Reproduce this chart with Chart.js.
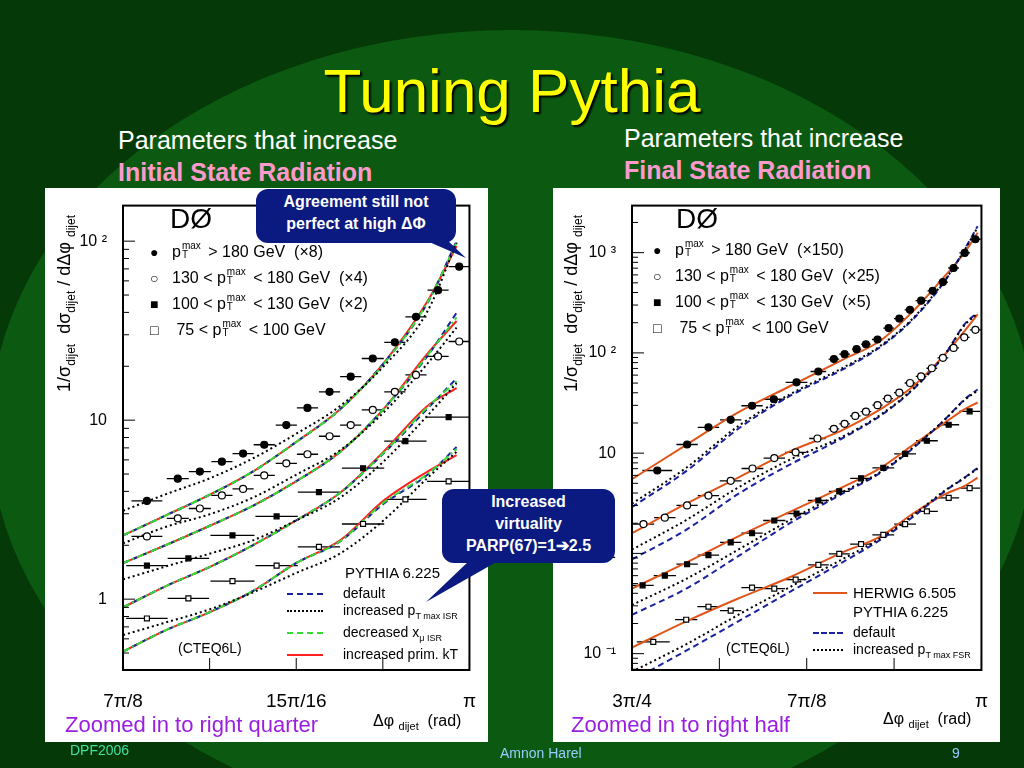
<!DOCTYPE html>
<html><head><meta charset="utf-8">
<script src="https://cdn.jsdelivr.net/npm/chart.js@4"></script>
<style>
body{margin:0;width:1024px;height:768px;overflow:hidden;background:#053a08;font-family:"Liberation Sans",Arial,sans-serif;position:relative}
.abs{position:absolute}
#ell{left:-10px;top:30px;width:1044px;height:800px;border-radius:50%;background:#0c5a12}
.title{left:0;width:1024px;top:55px;text-align:center;color:#ffff00;font-size:62px;text-shadow:2px 2px 2px #000}
.wt{color:#fff;font-size:25px}
.pk{color:#ff99cc;font-size:25px;font-weight:bold}
.panel{background:#fff}
.call{background:#0a1a80;color:#fff;font-weight:bold;font-size:16px;text-align:center;border-radius:12px;line-height:22px}
.leg{font-size:16px;color:#000;line-height:22.5px}
.ss{display:inline-flex;flex-direction:column;font-size:10px;line-height:9px;position:relative;top:-8px;margin-left:1px;margin-right:3px;vertical-align:baseline}
.mk{display:inline-block;width:22px;font-size:14px}
.ln{display:inline-block;width:60px;height:0;vertical-align:middle;margin-right:14px}
.lg2{font-size:14px;line-height:16.5px;color:#000}
.foot{color:#99ccff;font-size:14px}
.zm{color:#9a1ee0;font-size:22px}
.yl{transform:rotate(-90deg);transform-origin:0 0;font-size:18px;white-space:nowrap;color:#000}
</style></head><body>
<div id="ell" class="abs"></div>
<div class="abs title">Tuning Pythia</div>
<div class="abs wt" style="left:118px;top:126px">Parameters that increase</div>
<div class="abs pk" style="left:118px;top:158px">Initial State Radiation</div>
<div class="abs wt" style="left:624px;top:124px">Parameters that increase</div>
<div class="abs pk" style="left:624px;top:156px">Final State Radiation</div>
<div class="abs panel" style="left:45px;top:188px;width:443px;height:554px"></div>
<div class="abs panel" style="left:553px;top:188px;width:447px;height:554px"></div>
<canvas id="c1" class="abs" width="443" height="554" style="left:45px;top:188px"></canvas>
<canvas id="c2" class="abs" width="447" height="554" style="left:553px;top:188px"></canvas>

<!-- left legends -->
<div class="abs" style="left:170px;top:203px;font-size:28px">DØ</div>
<div class="abs leg" style="left:150px;top:241px">
<div><span class="mk">●</span>p<span class="ss"><span>max</span><span>T</span></span> &gt; 180 GeV &nbsp;(×8)</div>
<div><span class="mk">○</span>130 &lt; p<span class="ss"><span>max</span><span>T</span></span> &lt; 180 GeV &nbsp;(×4)</div>
<div><span class="mk">■</span>100 &lt; p<span class="ss"><span>max</span><span>T</span></span> &lt; 130 GeV &nbsp;(×2)</div>
<div><span class="mk">□</span>&nbsp;75 &lt; p<span class="ss"><span>max</span><span>T</span></span> &lt; 100 GeV</div>
</div>
<div class="abs lg2" style="left:345px;top:565px;font-size:15px">PYTHIA 6.225</div>
<div class="abs lg2" style="left:287px;top:585px">
<div><span class="ln" style="border-top:2.5px dashed #1a22a0;width:36px;margin-right:20px"></span>default</div>
<div><span class="ln" style="border-top:2.5px dotted #000;width:36px;margin-right:20px"></span>increased p<sub style="font-size:9px">T max ISR</sub></div>
<div><span class="ln" style="border-top:2.5px dashed #33dd33;width:36px;margin-right:20px"></span>decreased x<sub style="font-size:9px">μ ISR</sub></div>
<div><span class="ln" style="border-top:2.5px solid #ff2020;width:36px;margin-right:20px"></span>increased prim. kT</div>
</div>
<div class="abs lg2" style="left:178px;top:640px">(CTEQ6L)</div>
<div class="abs yl" style="left:54px;top:392px">1/σ<sub style="font-size:12px">dijet</sub> &nbsp;dσ<sub style="font-size:12px">dijet</sub> / dΔφ <sub style="font-size:12px">dijet</sub></div>
<div class="abs" style="left:373px;top:712px;font-size:16px;color:#000">Δφ <sub style="font-size:11px">dijet</sub> &nbsp;(rad)</div>
<div class="abs zm" style="left:65px;top:712px">Zoomed in to right quarter</div>

<!-- right legends -->
<div class="abs" style="left:676px;top:203px;font-size:28px">DØ</div>
<div class="abs leg" style="left:653px;top:239px">
<div><span class="mk">●</span>p<span class="ss"><span>max</span><span>T</span></span> &gt; 180 GeV &nbsp;(×150)</div>
<div><span class="mk">○</span>130 &lt; p<span class="ss"><span>max</span><span>T</span></span> &lt; 180 GeV &nbsp;(×25)</div>
<div><span class="mk">■</span>100 &lt; p<span class="ss"><span>max</span><span>T</span></span> &lt; 130 GeV &nbsp;(×5)</div>
<div><span class="mk">□</span>&nbsp;75 &lt; p<span class="ss"><span>max</span><span>T</span></span> &lt; 100 GeV</div>
</div>
<div class="abs lg2" style="left:853px;top:583px;font-size:15px;line-height:19px">
<div>HERWIG 6.505</div>
<div>PYTHIA 6.225</div></div>
<div class="abs" style="left:813px;top:592px;width:34px;border-top:2.5px solid #e0561a"></div>
<div class="abs lg2" style="left:813px;top:624px">
<div><span class="ln" style="border-top:2.5px dashed #1a22a0;width:30px;margin-right:10px"></span>default</div>
<div><span class="ln" style="border-top:2.5px dotted #000;width:30px;margin-right:10px"></span>increased p<sub style="font-size:9px">T max FSR</sub></div>
</div>
<div class="abs lg2" style="left:726px;top:640px">(CTEQ6L)</div>
<div class="abs yl" style="left:561px;top:392px">1/σ<sub style="font-size:12px">dijet</sub> &nbsp;dσ<sub style="font-size:12px">dijet</sub> / dΔφ <sub style="font-size:12px">dijet</sub></div>
<div class="abs" style="left:883px;top:710px;font-size:16px;color:#000">Δφ <sub style="font-size:11px">dijet</sub> &nbsp;(rad)</div>
<div class="abs zm" style="left:571px;top:712px">Zoomed in to right half</div>

<!-- callouts -->
<svg class="abs" style="left:0;top:0" width="1024" height="768">
<polygon points="420,238 445,238 466,258" fill="#0a1a80"/>
<polygon points="470,560 500,560 426,602" fill="#0a1a80"/>
</svg>
<div class="abs call" style="left:256px;top:189px;width:200px;height:52px;padding-top:2px">Agreement still not<br>perfect at high ΔΦ</div>
<div class="abs call" style="left:442px;top:489px;width:173px;height:72px;padding-top:2px">Increased<br>virtuality<br>PARP(67)=1➔2.5</div>

<div class="abs foot" style="left:70px;top:742px;color:#40e0a0">DPF2006</div>
<div class="abs foot" style="left:500px;top:745px">Amnon Harel</div>
<div class="abs foot" style="left:952px;top:745px">9</div>

<script>
const PI = Math.PI;
// ---------- Left plot (ISR) ----------
const L_xCirc = [2.776,2.811,2.836,2.861,2.885,2.909,2.934,2.958,2.983,3.007,3.032,3.057,3.081,3.106,3.130];
const L_fCirc = [3.54,4.71,5.16,5.86,6.51,7.29,9.39,11.7,14.4,17.5,22.1,27.2,37.8,53.2,72.0];
const L_oCirc = [2.24,2.83,3.21,3.80,4.13,4.91,5.74,6.45,8.13,9.39,11.4,14.4,17.9,22.7,27.5];
const L_xSq = [2.776,2.823,2.873,2.923,2.971,3.021,3.069,3.118];
const L_fSq = [1.54,1.69,2.27,2.90,3.96,5.39,7.64,10.4];
const L_oSq = [0.78,1.01,1.26,1.54,1.96,2.63,3.61,4.55];
const L_curveX = [2.749,2.797,2.848,2.896,2.945,2.995,3.044,3.094,3.127];
const L_red1 = [2.27,2.93,3.85,5.16,7.54,11.5,20.7,46.1,94];
const L_blue1 = [2.27,2.93,3.85,5.16,7.54,11.5,20.7,45.1,100];
const L_green1 = [2.27,2.93,3.85,5.16,7.54,11.5,20.5,45.5,98];
const L_dot1 = [3.12,3.85,4.75,6.11,8.38,12.0,19.9,40.6,98];
const L_red2 = [1.59,2.00,2.58,3.32,4.55,6.65,11.5,23.5,35.8];
const L_blue2 = [1.59,2.00,2.58,3.32,4.55,6.65,11.5,22.8,39.8];
const L_green2 = [1.59,2.00,2.58,3.32,4.55,6.65,11.5,23.0,37.5];
const L_dot2 = [2.05,2.53,2.99,3.69,4.95,6.79,11.0,20.7,32.9];
const L_red3 = [0.90,1.18,1.52,2.00,2.75,3.93,6.65,12.0,15.1];
const L_blue3 = [0.90,1.18,1.52,2.00,2.75,3.93,6.50,11.6,17.1];
const L_green3 = [0.90,1.18,1.52,2.00,2.75,3.93,6.55,11.8,16.5];
const L_dot3 = [1.29,1.52,1.80,2.13,2.75,3.69,5.86,10.6,16.1];
const L_red4 = [0.51,0.67,0.85,1.11,1.59,2.13,3.54,5.16,6.37];
const L_blue4 = [0.51,0.67,0.85,1.11,1.59,2.10,3.40,4.95,7.08];
const L_green4 = [0.51,0.67,0.85,1.11,1.59,2.11,3.45,5.00,6.90];
const L_dot4 = [0.63,0.74,0.88,1.09,1.40,1.80,2.75,4.75,6.65];
const L_xTicks = [7*PI/8, 15*PI/16, PI];
const L_xLabels = ['7π/8','15π/16','π'];
const L_yTicks = [1,10,100];
const L_yLabels = ['1','10','10 ²'];

// ---------- Right plot (FSR) ----------
const R_xFCirc = [2.413,2.480,2.528,2.578,2.626,2.675,2.726,2.775,2.810,2.834,2.861,2.882,2.908,2.933,2.957,2.981,3.006,3.032,3.055,3.079,3.104,3.128];
const R_fCirc = [6.71,12.2,18.1,21.5,29.7,34.5,50.9,65.2,86.7,97.0,109,122,136,177,220,269,332,416,509,703,993,1360];
const R_xOCirc = [2.382,2.430,2.480,2.528,2.578,2.627,2.676,2.724,2.773,2.810,2.834,2.858,2.882,2.908,2.931,2.957,2.981,3.006,3.030,3.055,3.079,3.103,3.128];
const R_oCirc = [1.96,2.27,3.01,3.77,5.29,7.03,8.93,10.2,14.0,17.5,19.6,23.5,25.9,30.1,35.0,40.1,50.1,58.3,70.3,89.3,112,143,170];
const R_xFSq = [2.380,2.430,2.480,2.528,2.578,2.626,2.676,2.726,2.775,2.822,2.871,2.921,2.970,3.019,3.068,3.115];
const R_fSq = [0.48,0.60,0.78,0.96,1.29,1.59,2.13,2.50,3.37,4.16,5.61,7.13,9.85,13.3,19.2,26.1];
const R_xOSq = [2.404,2.478,2.528,2.578,2.626,2.676,2.724,2.775,2.822,2.871,2.921,2.970,3.019,3.068,3.115];
const R_oSq = [0.131,0.218,0.294,0.269,0.455,0.445,0.548,0.769,0.99,1.24,1.53,1.96,2.63,3.58,4.48];
const R_curveX = [2.356,2.478,2.595,2.711,2.828,2.915,2.988,3.061,3.104,3.133];
const R_herwig1 = [5.49,12.1,25.5,46.5,84.8,133,261,596,1007,1580];
const R_def1 = [2.90,6.62,17.5,37.2,67.7,115,217,533,1086,1836];
const R_dot1 = [3.13,7.14,18.6,38.6,70.2,118,222,544,1070,1780];
const R_herwig2 = [1.59,3.13,5.70,10.4,16.9,27.5,46.5,98.5,166,242];
const R_def2 = [0.87,1.72,3.92,7.69,14.0,23.7,43.2,98.5,194,252];
const R_dot2 = [1.09,2.15,4.55,8.61,14.5,24.2,43.8,98.5,190,246];
const R_herwig3 = [0.445,0.81,1.48,2.59,4.55,7.14,12.1,20.4,27.5,32.0];
const R_def3 = [0.244,0.445,0.94,2.00,3.92,6.38,11.2,22.0,34.5,43.2];
const R_dot3 = [0.306,0.557,1.09,2.15,4.06,6.52,11.4,22.0,34.0,42.0];
const R_herwig4 = [0.115,0.210,0.355,0.578,1.02,1.48,2.50,3.92,4.72,5.70];
const R_def4 = [0.054,0.107,0.210,0.413,0.81,1.37,2.32,4.22,5.70,7.14];
const R_dot4 = [0.066,0.124,0.244,0.461,0.87,1.42,2.40,4.29,5.70,7.00];
const R_xTicks = [3*PI/4, 7*PI/8, PI];
const R_xLabels = ['3π/4','7π/8','π'];
const R_yTicks = [0.1,1,10,100,1000];
const R_yLabels = ['10 ⁻¹','1','10','10 ²','10 ³'];

const zip = (xs, ys) => xs.map((x,i)=>({x, y: ys[i]}));
function pts(xs, ys, style, filled){
  return {data: zip(xs,ys), showLine:false, pointStyle: style, pointRadius:3.5,
    backgroundColor: filled?'#000':'#fff', borderColor:'#000', borderWidth:1.2, errbar:true, order:0};
}
function curve(xs, ys, color, dash, w){
  return {data: zip(xs,ys), showLine:true, pointRadius:0, borderColor:color, borderDash:dash, borderWidth:w||2, cubicInterpolationMode:'monotone', order:1, fill:false};
}
const BLUE='#1a22a0', GREEN='#33dd33', RED='#ff2020', HER='#e0561a';

const errPlugin = {
  id:'errbars',
  beforeDatasetsDraw(chart){
    const ctx=chart.ctx, xs=chart.scales.x, ys=chart.scales.y, a=chart.chartArea;
    ctx.save(); ctx.strokeStyle='#000'; ctx.lineWidth=1.3;
    ctx.beginPath(); ctx.rect(a.left,a.top,a.right-a.left,a.bottom-a.top); ctx.clip();
    chart.data.datasets.forEach(ds=>{
      if(!ds.errbar) return;
      const d=ds.data;
      d.forEach((p,i)=>{
        const gp = i>0 ? p.x-d[i-1].x : d[i+1].x-p.x;
        const gn = i<d.length-1 ? d[i+1].x-p.x : gp;
        const h = Math.min(gp,gn)/2;
        const y=ys.getPixelForValue(p.y);
        ctx.beginPath(); ctx.moveTo(xs.getPixelForValue(p.x-h),y); ctx.lineTo(xs.getPixelForValue(p.x+h),y); ctx.stroke();
      });
    });
    ctx.restore();
  },
  afterDraw(chart){
    const ctx=chart.ctx, xs=chart.scales.x, ys=chart.scales.y, a=chart.chartArea, o=chart.options.plugins.errbars;
    ctx.save(); ctx.strokeStyle='#000'; ctx.lineWidth=1;
    for(let e=-2;e<=3;e++) for(let m=1;m<10;m++){
      const v=m*Math.pow(10,e); if(v<ys.min||v>ys.max) continue;
      const y=ys.getPixelForValue(v), L=m===1?12:6;
      ctx.beginPath(); ctx.moveTo(a.left,y); ctx.lineTo(a.left+L,y); ctx.stroke();
    }
    for(let v=xs.min; v<=xs.max+1e-9; v+=o.xstep){
      const x=xs.getPixelForValue(v);
      ctx.beginPath(); ctx.moveTo(x,a.bottom); ctx.lineTo(x,a.bottom-12); ctx.stroke();
    }
    ctx.lineWidth=2; ctx.strokeRect(a.left,a.top,a.right-a.left,a.bottom-a.top);
    ctx.restore();
  }
};

function make(id, datasets, xmin, xmax, ymin, ymax, xT, xL, yT, yL, yW, xstep){
  new Chart(document.getElementById(id), {
    type:'scatter',
    data:{datasets},
    plugins:[errPlugin],
    options:{
      responsive:false, animation:false, devicePixelRatio:1,
      layout:{padding:{top:10,right:8,left:0,bottom:0}},
      plugins:{legend:{display:false}, tooltip:{enabled:false}, errbars:{xstep}},
      scales:{
        x:{type:'linear', min:xmin, max:xmax,
          afterBuildTicks:s=>{s.ticks=xT.map(v=>({value:v}));},
          afterFit:s=>{s.height=72;},
          grid:{display:false}, border:{display:false},
          ticks:{autoSkip:false, maxRotation:0, color:'#000', font:{size:19,family:'Liberation Sans'}, padding:12,
            callback:(v)=>{const i=xT.findIndex(t=>Math.abs(t-v)<1e-6); return i>=0?xL[i]:'';}}},
        y:{type:'logarithmic', min:ymin, max:ymax,
          afterBuildTicks:s=>{s.ticks=yT.map(v=>({value:v}));},
          afterFit:s=>{s.width=yW;},
          grid:{display:false}, border:{display:false},
          ticks:{autoSkip:false, color:'#000', font:{size:16,family:'Liberation Sans'}, padding:8,
            callback:(v)=>{const i=yT.findIndex(t=>Math.abs(t-v)/t<1e-6); return i>=0?yL[i]:'';}}}
      }
    }
  });
}

const leftSets = [
  curve(L_curveX,L_dot1,'#000',[2,3]), curve(L_curveX,L_green1,GREEN,[7,3,2,3]), curve(L_curveX,L_blue1,BLUE,[6,4]), curve(L_curveX,L_red1,RED,[]),
  curve(L_curveX,L_dot2,'#000',[2,3]), curve(L_curveX,L_green2,GREEN,[7,3,2,3]), curve(L_curveX,L_blue2,BLUE,[6,4]), curve(L_curveX,L_red2,RED,[]),
  curve(L_curveX,L_dot3,'#000',[2,3]), curve(L_curveX,L_green3,GREEN,[7,3,2,3]), curve(L_curveX,L_blue3,BLUE,[6,4]), curve(L_curveX,L_red3,RED,[]),
  curve(L_curveX,L_dot4,'#000',[2,3]), curve(L_curveX,L_green4,GREEN,[7,3,2,3]), curve(L_curveX,L_blue4,BLUE,[6,4]), curve(L_curveX,L_red4,RED,[]),
  pts(L_xCirc,L_fCirc,'circle',true), pts(L_xCirc,L_oCirc,'circle',false),
  pts(L_xSq,L_fSq,'rect',true), pts(L_xSq,L_oSq,'rect',false)
];
make('c1', leftSets, 7*PI/8, PI, 0.402, 158, L_xTicks, L_xLabels, L_yTicks, L_yLabels, 78, PI/32);

const rightSets = [
  curve(R_curveX,R_dot1,'#000',[2,3]), curve(R_curveX,R_def1,BLUE,[6,4]), curve(R_curveX,R_herwig1,HER,[]),
  curve(R_curveX,R_dot2,'#000',[2,3]), curve(R_curveX,R_def2,BLUE,[6,4]), curve(R_curveX,R_herwig2,HER,[]),
  curve(R_curveX,R_dot3,'#000',[2,3]), curve(R_curveX,R_def3,BLUE,[6,4]), curve(R_curveX,R_herwig3,HER,[]),
  curve(R_curveX,R_dot4,'#000',[2,3]), curve(R_curveX,R_def4,BLUE,[6,4]), curve(R_curveX,R_herwig4,HER,[]),
  pts(R_xFCirc,R_fCirc,'circle',true), pts(R_xOCirc,R_oCirc,'circle',false),
  pts(R_xFSq,R_fSq,'rect',true), pts(R_xOSq,R_oSq,'rect',false)
];
make('c2', rightSets, 3*PI/4, PI, 0.0687, 2946, R_xTicks, R_xLabels, R_yTicks, R_yLabels, 79, PI/16);
</script>
</body></html>
